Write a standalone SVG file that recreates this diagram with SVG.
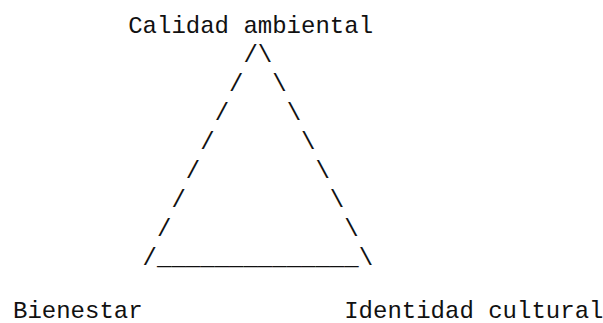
<svg xmlns="http://www.w3.org/2000/svg" width="603" height="323" viewBox="0 0 603 323">
<style>
  text { font-family: "Liberation Mono", "Courier New", monospace; font-size: 24px; fill: #111; white-space: pre; }
</style>
<rect width="603" height="323" fill="#fff"/>
<g id="calidad-ambiental">
  <text x="128.2" y="33">Calidad ambiental</text>
</g>
<g id="connectors">
  <text x="13" y="62" xml:space="preserve">                /\</text>
  <text x="13" y="91" xml:space="preserve">               /  \</text>
  <text x="13" y="120" xml:space="preserve">              /    \</text>
  <text x="13" y="149" xml:space="preserve">             /      \</text>
  <text x="13" y="178" xml:space="preserve">            /        \</text>
  <text x="13" y="207" xml:space="preserve">           /          \</text>
  <text x="13" y="236" xml:space="preserve">          /            \</text>
  <text x="13" y="265" xml:space="preserve">         /______________\</text>
</g>
<g id="bienestar">
  <text x="13" y="318">Bienestar</text>
</g>
<g id="identidad-cultural">
  <text x="344.2" y="318">Identidad cultural</text>
</g>
</svg>
